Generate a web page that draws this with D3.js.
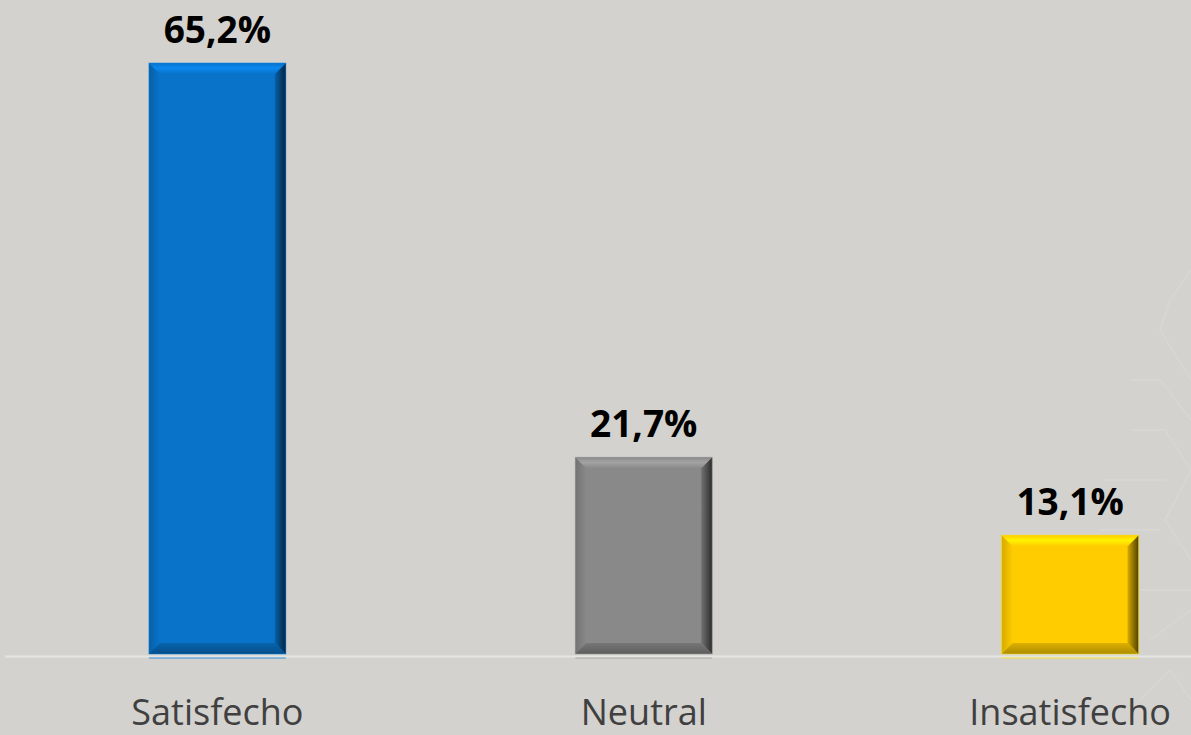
<!DOCTYPE html>
<html><head><meta charset="utf-8">
<script src="https://cdn.jsdelivr.net/npm/d3@7"></script>
<style>html,body{margin:0;padding:0;background:#d3d2ce;overflow:hidden}</style>
</head><body>
<svg id="c" width="1191" height="735"></svg>
<script>
const categories = ["Satisfecho", "Neutral", "Insatisfecho"];
const values = [65.2, 21.7, 13.1];
const valueLabels = ["65,2%", "21,7%", "13,1%"];
const barColors = ["#0873c9", "#898989", "#ffcc00"];

const W = 1191, H = 735;
const svg = d3.select("#c");
svg.append("rect").attr("width", W).attr("height", H).attr("fill", "#d3d2ce");

// faint hexagon decoration on the right
const deco = svg.append("g").attr("fill", "none").attr("stroke", "#ffffff").attr("stroke-opacity", 0.09).attr("stroke-width", 2);
const hexPaths = [
  [[1191,270],[1170,300],[1160,330],[1191,380]],
  [[1130,380],[1160,380],[1191,420]],
  [[1130,430],[1165,430],[1191,470],[1165,520],[1191,560]],
  [[1105,480],[1165,480]],
  [[1100,530],[1160,530]],
  [[1140,590],[1191,590]],
  [[1150,640],[1191,610]],
  [[1140,700],[1170,670],[1191,700]]
];
hexPaths.forEach(p => deco.append("path").attr("d", d3.line()(p)));

const y = d3.scaleLinear().domain([0, 65.2]).range([654, 63]);
const x = d3.scaleBand().domain(categories).range([4, 1283.5]).paddingInner(0.679).paddingOuter(0.34);

const defs = svg.append("defs");
function shade(c, k) { return d3.color(c).darker(k).formatHex(); }
function tint(c, k) { return d3.color(c).brighter(k).formatHex(); }

const bevel = 11;
categories.forEach((cat, i) => {
  const c = barColors[i];
  const x0 = x(cat), bw = x.bandwidth(), x1 = x0 + bw;
  const y0 = y(values[i]), y1 = y(0);
  const g = svg.append("g");
  const gl = defs.append("linearGradient").attr("id", "gl" + i).attr("x1", 0).attr("x2", 1).attr("y1", 0).attr("y2", 0);
  gl.append("stop").attr("offset", 0).attr("stop-color", shade(c, 0.5));
  gl.append("stop").attr("offset", 1).attr("stop-color", c);
  const gr = defs.append("linearGradient").attr("id", "gr" + i).attr("x1", 0).attr("x2", 1).attr("y1", 0).attr("y2", 0);
  gr.append("stop").attr("offset", 0).attr("stop-color", shade(c, 0.5));
  gr.append("stop").attr("offset", 1).attr("stop-color", shade(c, 3.2));
  const gt = defs.append("linearGradient").attr("id", "gt" + i).attr("x1", 0).attr("x2", 0).attr("y1", 0).attr("y2", 1);
  gt.append("stop").attr("offset", 0).attr("stop-color", c);
  gt.append("stop").attr("offset", 0.45).attr("stop-color", tint(c, 0.5));
  gt.append("stop").attr("offset", 1).attr("stop-color", c);
  const gb = defs.append("linearGradient").attr("id", "gb" + i).attr("x1", 0).attr("x2", 0).attr("y1", 0).attr("y2", 1);
  gb.append("stop").attr("offset", 0).attr("stop-color", shade(c, 0.4));
  gb.append("stop").attr("offset", 1).attr("stop-color", shade(c, 1.1));

  g.append("rect").attr("x", x0).attr("y", y0).attr("width", bw).attr("height", y1 - y0).attr("fill", c);
  g.append("path").attr("d", d3.line()([[x0, y0], [x0 + bevel, y0 + bevel], [x0 + bevel, y1 - bevel], [x0, y1]])).attr("fill", `url(#gl${i})`);
  g.append("path").attr("d", d3.line()([[x1, y0], [x1 - bevel, y0 + bevel], [x1 - bevel, y1 - bevel], [x1, y1]])).attr("fill", `url(#gr${i})`);
  g.append("path").attr("d", d3.line()([[x0, y0], [x1, y0], [x1 - bevel, y0 + bevel], [x0 + bevel, y0 + bevel]])).attr("fill", `url(#gt${i})`);
  g.append("path").attr("d", d3.line()([[x0, y1], [x1, y1], [x1 - bevel, y1 - bevel], [x0 + bevel, y1 - bevel]])).attr("fill", `url(#gb${i})`);
  g.append("rect").attr("x", x0).attr("y", y0).attr("width", bw).attr("height", y1 - y0).attr("fill", "none").attr("stroke", tint(c, 0.3)).attr("stroke-opacity", 0.5).attr("stroke-width", 1);
  g.append("rect").attr("x", x0).attr("y", y1 + 3).attr("width", bw).attr("height", 1.5).attr("fill", tint(c, 0.3)).attr("opacity", 0.8);
});

svg.append("line").attr("x1", 5).attr("x2", W).attr("y1", y(0) + 2.5).attr("y2", y(0) + 2.5)
  .attr("stroke", "#e6e5e2").attr("stroke-width", 2);

svg.selectAll("text.val").data(categories).enter().append("text").attr("class", "val")
  .attr("x", d => x(d) + x.bandwidth() / 2)
  .attr("y", (d, i) => y(values[i]) - 20)
  .attr("text-anchor", "middle")
  .attr("font-family", "'Open Sans', sans-serif").attr("font-weight", "bold").attr("font-size", 37)
  .attr("fill", "#000")
  .text((d, i) => valueLabels[i]);

const xAxis = svg.append("g").attr("transform", `translate(0,${y(0)})`)
  .call(d3.axisBottom(x).tickSize(0).tickPadding(0));
xAxis.select(".domain").remove();
xAxis.selectAll("text").attr("dy", null).attr("y", 71)
  .attr("font-family", "'Open Sans', sans-serif").attr("font-size", 36).attr("fill", "#404040");
</script>
</body></html>
